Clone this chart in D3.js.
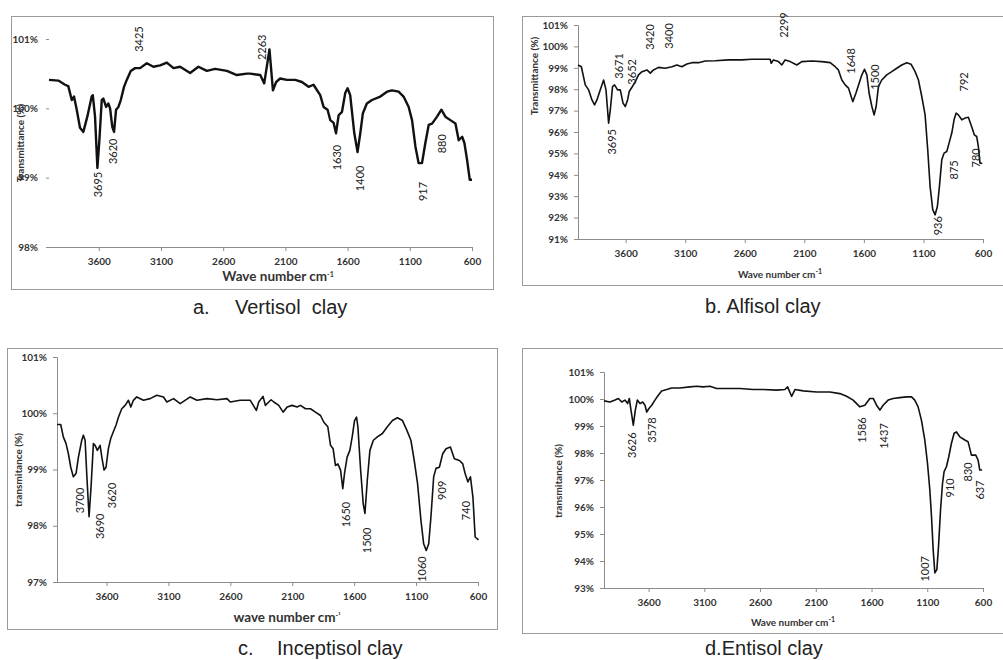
<html>
	<head>
		<title>FTIR clay spectra</title>
		<script src='https://d3js.org/d3.v7.min.js' charset='utf-8'></script>
		<style>
			body {margin: 0; background: #fff;}
			text {font-family: Lato, "Open Sans", sans-serif;}
			.cap {font-family: "Liberation Sans", Arial, sans-serif; font-size: 20px; fill: #222; white-space: pre;}
		</style>
	</head>
	<body>
		<div id="ftir"></div>
		<script>
			//Data - wave number (cm-1) and transmittance (%)
			var wnA = [4000,3925,3871,3845,3817,3799,3777,3751,3724,3692,3657,3648,3630,3611,3595,3576,3563,3541,3523,3509,3491,3477,3461,3442,3423,3397,3375,3343,3308,3268,3214,3161,3107,3053,2999,2946,2866,2799,2731,2665,2570,2490,2410,2383,2302,2270,2228,2200,2174,2142,2088,2021,1967,1914,1874,1820,1793,1761,1739,1712,1693,1672,1645,1619,1600,1579,1546,1520,1498,1477,1445,1404,1337,1283,1243,1190,1150,1109,1082,1055,1029,1002,975,948,921,881,846,814,774,733,707,679,661,639,618,600];
			var tA = [100.41,100.40,100.34,100.32,100.12,100.17,99.98,99.72,99.66,99.88,100.17,100.19,99.88,99.14,99.54,100.12,100.14,100.02,100.07,100.00,99.73,99.66,99.98,100.02,100.12,100.31,100.41,100.54,100.58,100.58,100.65,100.60,100.62,100.66,100.58,100.60,100.51,100.60,100.54,100.57,100.54,100.48,100.50,100.50,100.48,100.36,100.85,100.26,100.38,100.43,100.41,100.41,100.38,100.31,100.34,100.19,100.02,99.98,99.83,99.79,99.64,99.90,99.95,100.22,100.29,100.19,99.64,99.37,99.64,99.93,100.07,100.12,100.17,100.24,100.26,100.24,100.17,100.02,99.83,99.45,99.21,99.21,99.50,99.76,99.78,99.88,99.98,99.88,99.83,99.78,99.54,99.59,99.50,99.25,98.97,98.97];

			var wnB = [4000,3972,3939,3911,3883,3861,3841,3813,3785,3765,3743,3729,3710,3693,3668,3645,3622,3603,3584,3570,3547,3519,3492,3463,3421,3393,3366,3324,3268,3211,3170,3128,3086,3044,2988,2932,2848,2737,2624,2540,2485,2387,2378,2359,2317,2289,2261,2219,2163,2121,2037,1953,1883,1841,1814,1785,1757,1729,1707,1693,1667,1640,1617,1595,1575,1556,1533,1514,1497,1478,1450,1408,1366,1324,1282,1240,1204,1170,1142,1114,1086,1064,1044,1022,1002,983,966,946,927,904,885,862,843,826,807,778,751,723,695,673,653,639,625,606];
			var tB = [99.13,99.05,98.20,97.97,97.50,97.27,97.50,97.97,98.43,97.97,96.41,97.03,98.12,98.20,97.97,97.97,97.35,97.19,97.50,97.89,98.09,98.35,98.67,98.82,98.90,98.75,98.90,99.02,98.98,99.05,99.13,99.05,99.18,99.24,99.24,99.32,99.33,99.37,99.37,99.40,99.40,99.40,99.21,99.37,99.29,99.13,99.37,99.29,99.13,99.29,99.32,99.29,99.24,99.05,98.90,98.43,98.20,98.05,97.66,97.42,97.81,98.28,98.67,98.93,98.67,97.81,97.19,96.80,97.19,98.12,98.43,98.67,98.82,98.98,99.13,99.24,99.17,98.82,98.43,97.66,96.80,95.17,93.45,92.37,92.13,92.52,93.45,94.70,95.01,95.09,95.48,95.95,96.57,96.88,96.80,96.57,96.65,96.69,96.25,95.87,95.79,95.32,94.54,94.54];

			var wnC = [4000,3970,3949,3927,3908,3889,3868,3846,3827,3800,3787,3773,3760,3741,3725,3706,3692,3674,3652,3638,3620,3604,3585,3566,3545,3523,3504,3477,3450,3423,3404,3383,3356,3302,3248,3194,3140,3113,3059,3005,2924,2870,2789,2708,2627,2601,2520,2439,2390,2371,2336,2317,2290,2271,2249,2209,2174,2141,2101,2061,2034,1993,1953,1913,1872,1845,1813,1791,1770,1751,1732,1710,1692,1678,1657,1635,1616,1597,1581,1570,1548,1527,1513,1494,1473,1445,1413,1372,1332,1291,1251,1210,1175,1142,1115,1088,1061,1039,1018,998,980,958,939,912,885,858,823,791,750,723,704,682,661,641,623,596];
			var tC = [99.80,99.80,99.58,99.46,99.28,99.04,98.87,98.93,99.22,99.52,99.61,99.52,98.93,98.16,98.69,99.46,99.43,99.34,99.43,99.22,98.99,99.04,99.37,99.55,99.67,99.79,99.93,100.08,100.14,100.23,100.11,100.23,100.29,100.23,100.26,100.32,100.29,100.20,100.26,100.17,100.29,100.23,100.26,100.24,100.26,100.20,100.23,100.23,100.05,100.20,100.30,100.14,100.20,100.24,100.20,100.14,100.02,100.11,100.14,100.11,100.14,100.08,100.08,100.02,99.96,99.84,99.76,99.43,99.37,99.07,99.10,98.99,98.66,98.93,99.22,99.34,99.58,99.87,99.93,99.76,98.99,98.39,98.22,98.81,99.34,99.52,99.58,99.64,99.76,99.87,99.92,99.87,99.70,99.52,99.16,98.75,98.10,97.68,97.56,97.68,98.16,98.87,99.02,99.04,99.28,99.37,99.40,99.19,99.16,99.10,98.93,98.78,98.87,98.51,97.80,97.75];

			var wnD = [4000,3946,3901,3871,3841,3812,3788,3773,3758,3737,3719,3701,3677,3653,3632,3617,3597,3572,3543,3513,3483,3438,3393,3319,3229,3169,3110,3050,2990,2900,2781,2661,2572,2452,2377,2353,2317,2287,2213,2093,1974,1884,1824,1765,1705,1660,1615,1585,1555,1525,1496,1451,1406,1346,1286,1241,1212,1182,1152,1122,1098,1077,1062,1047,1032,1014,999,981,963,949,928,907,883,859,838,808,763,734,704,665,644,629,608];
			var tD = [99.93,99.89,99.96,100.02,99.89,99.96,99.83,100.02,99.59,99.03,99.59,99.96,99.83,99.89,99.77,99.52,99.65,99.77,99.96,100.14,100.30,100.35,100.41,100.41,100.45,100.47,100.45,100.47,100.39,100.39,100.39,100.35,100.35,100.33,100.35,100.45,100.10,100.35,100.30,100.26,100.26,100.20,100.10,99.96,99.71,99.77,100.02,100.02,99.77,99.59,99.77,99.96,100.02,100.05,100.08,100.08,99.96,99.71,99.21,98.48,97.62,96.63,95.65,94.42,93.56,93.68,94.54,95.89,96.88,97.31,97.49,97.86,98.36,98.73,98.78,98.60,98.48,98.42,97.92,97.92,97.74,97.37,97.37];

			//Peak labels - text, wave number and transmittance where the label sits
			var peaksA = ["3425","3695","3620","2263","1630","1400","917","880"];
			var peakWnA = [3276,3606,3485,2286,1683,1498,991,838];
			var peakTA = [101.0,98.90,99.38,100.88,99.29,98.99,98.80,99.49];
			var peaksB = ["3695","3671","3652","3420","3400","2299","1648","1500","792","875","780","936"];
			var peakWnB = [3715,3654,3547,3393,3234,2269,1707,1506,755,842,661,977];
			var peakTB = [95.54,99.09,98.81,100.44,100.49,101.0,99.32,98.57,98.34,94.23,94.79,91.62];
			var peaksC = ["3700","3690","3620","1650","1500","1060","909","740"];
			var peakWnC = [3814,3652,3553,1662,1494,1049,888,699];
			var peakTC = [98.45,97.99,98.54,98.20,97.74,97.23,98.63,98.27];
			var peaksD = ["3626","3578","1586","1437","1007","910","830","637"];
			var peakWnD = [3746,3567,1684,1489,1116,898,734,629];
			var peakTD = [98.29,98.85,98.85,98.63,93.71,96.71,97.30,96.63];

			//Axis ticks
			var xTicks = [3600,3100,2600,2100,1600,1100,600];
			var yTicksA = [98,99,100,101];
			var yTicksB = [91,92,93,94,95,96,97,98,99,100,101];
			var yTicksC = [97,98,99,100,101];
			var yTicksD = [93,94,95,96,97,98,99,100,101];

			var captions = [["a.", "Vertisol  clay"], ["b. Alfisol clay", ""], ["c.", "Inceptisol clay"], ["d.Entisol clay", ""]];
			var yTitles = ["Transmittance (%)", "Transmittance (%)", "transmitance (%)", "transmitance (%)"];
			var xTitles = ["Wave number cm", "Wave number cm", "wave number cm", "Wave number cm"];
			var xTitleSup = ["-1", "-1", "-\u00B9", "-1"];

			//Setup
			var svg = d3.select("#ftir").append("svg")
				.attr("width", 1003)
				.attr("height", 660);

			// Layout of each panel (box, plot area, titles, caption)
			var panels = [
				{wn: wnA, t: tA, pk: peaksA, pkx: peakWnA, pky: peakTA, yTicks: yTicksA, yDom: [98, 101],
					box: [11, 16, 493, 289], px: [49, 472], py: [247, 39], lw: 2.4, yLine: false,
					yt: [20, 143], xt: [278, 281, 13.5], cap: [193, 235, 314]},
				{wn: wnB, t: tB, pk: peaksB, pkx: peakWnB, pky: peakTB, yTicks: yTicksB, yDom: [91, 101],
					box: [522, 16, 1010, 285], px: [578, 983], py: [239, 25], lw: 1.6, yLine: true,
					yt: [534, 76], xt: [780, 278, 10], cap: [705, 0, 313]},
				{wn: wnC, t: tC, pk: peaksC, pkx: peakWnC, pky: peakTC, yTicks: yTicksC, yDom: [97, 101],
					box: [7, 348, 497, 629], px: [57, 478], py: [582, 357], lw: 1.6, yLine: true,
					yt: [18, 470], xt: [287, 622, 13.5], cap: [238, 277, 655]},
				{wn: wnD, t: tD, pk: peaksD, pkx: peakWnD, pky: peakTD, yTicks: yTicksD, yDom: [93, 101],
					box: [522, 348, 1010, 633], px: [604, 983], py: [588, 372], lw: 1.6, yLine: true,
					yt: [558, 481], xt: [793, 626, 10], cap: [705, 0, 655]}
			];

			panels.forEach(function(p, k) {
				var g = svg.append("g");
				// Frame
				g.append("rect")
					.attr("x", p.box[0] + 0.5)
					.attr("y", p.box[1] + 0.5)
					.attr("width", p.box[2] - p.box[0])
					.attr("height", p.box[3] - p.box[1])
					.attr("fill", "none")
					.attr("stroke", "#9a9a9a");

				var x = d3.scaleLinear().domain([4000, 600]).range(p.px);
				var y = d3.scaleLinear().domain(p.yDom).range(p.py);

				// Axes
				var xAxis = g.append("g")
					.attr("transform", "translate(0," + p.py[0] + ")")
					.call(d3.axisBottom(x).tickValues(xTicks).tickSize(4).tickPadding(7).tickFormat(d3.format("d")));
				var yAxis = g.append("g")
					.attr("transform", "translate(" + p.px[0] + ",0)")
					.call(d3.axisLeft(y).tickValues(p.yTicks).tickSize(p.yLine ? 4 : 3).tickPadding(p.yLine ? 6 : 8)
						.tickFormat(function(d) { return d + "%"; }));
				[xAxis, yAxis].forEach(function(a) {
					a.selectAll("path, line").attr("stroke", "#8c8c8c");
					a.selectAll("text").attr("fill", "#333").attr("font-size", "10px").attr("font-weight", "bold")
						.attr("font-family", "Lato, sans-serif");
				});
				xAxis.select(".domain").attr("d", "M" + p.px[0] + ",0.5H" + p.px[1]);
				if (!p.yLine) { yAxis.select(".domain").remove(); }

				// Spectrum
				var pts = p.wn.map(function(w, i) { return [w, p.t[i]]; });
				g.append("path")
					.datum(pts)
					.attr("fill", "none")
					.attr("stroke", "#111")
					.attr("stroke-width", p.lw)
					.attr("stroke-linejoin", "round")
					.attr("d", d3.line().x(function(d) { return x(d[0]); }).y(function(d) { return y(d[1]); }));

				// Peak labels
				g.selectAll(".pk")
					.data(p.pk)
					.enter().append("text")
					.attr("transform", function(d, i) { return "translate(" + x(p.pkx[i]) + "," + y(p.pky[i]) + ") rotate(-90)"; })
					.attr("text-anchor", "middle")
					.attr("dy", "0.35em")
					.attr("font-size", "11px")
					.attr("fill", "#222")
					.text(function(d) { return d; });

				// Axis titles
				g.append("text")
					.attr("transform", "translate(" + p.yt[0] + "," + p.yt[1] + ") rotate(-90)")
					.attr("text-anchor", "middle")
					.attr("dy", "0.35em")
					.attr("font-size", "10px")
					.attr("font-weight", "bold")
					.attr("fill", "#333")
					.text(yTitles[k]);
				var xt = g.append("text")
					.attr("x", p.xt[0])
					.attr("y", p.xt[1])
					.attr("text-anchor", "middle")
					.attr("font-size", p.xt[2] + "px")
					.attr("font-weight", "bold")
					.attr("fill", "#333")
					.text(xTitles[k]);
				xt.append("tspan")
					.attr("dy", -4)
					.attr("font-size", "7px")
					.text(xTitleSup[k]);

				// Caption
				g.append("text").attr("class", "cap")
					.attr("x", p.cap[0]).attr("y", p.cap[2])
					.text(captions[k][0]);
				if (captions[k][1]) {
					g.append("text").attr("class", "cap")
						.attr("x", p.cap[1]).attr("y", p.cap[2])
						.text(captions[k][1]);
				}
			});
		</script>
	</body>
</html>
